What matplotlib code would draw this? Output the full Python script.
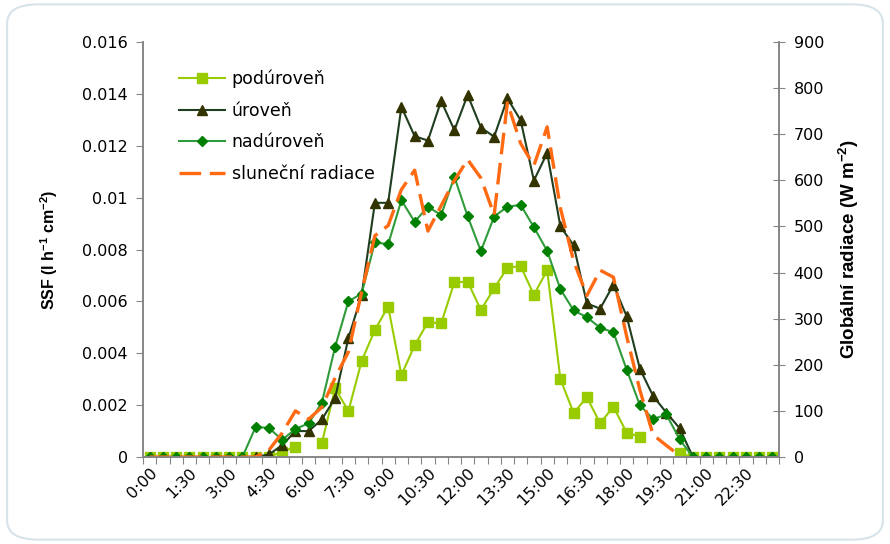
# SSF a globalni radiace behem dne (pulhodinove hodnoty)
import numpy as np
import matplotlib.pyplot as plt
from matplotlib.patches import FancyBboxPatch

nan = np.nan

plt.rcParams["mathtext.fontset"] = "custom"
plt.rcParams["mathtext.rm"] = "Liberation Sans"
plt.rcParams["mathtext.bf"] = "Liberation Sans:bold"

# casy po 30 minutach 0:00 .. 23:30
times = ["%d:%02d" % (h, m) for h in range(24) for m in (0, 30)]

podurovne = [0, 0, 0, 0, 0, 0, 0, 0, 0, 0.0, 0.0002, 0.0004, nan, 0.00055,
             0.00265, 0.00177, 0.0037, 0.0049, 0.0058, 0.00316, 0.0043, 0.0052,
             0.00515, 0.00674, 0.00676, 0.00567, 0.0065, 0.0073, 0.00736, 0.00625,
             0.0072, 0.003, 0.0017, 0.0023, 0.0013, 0.00194, 0.00094, 0.00078,
             nan, nan, 0.00015, 0, 0, 0, 0, 0, 0, 0]

urovne = [0, 0, 0, 0, 0, 0, 0, 0, 0, 0.0001, 0.00045, 0.001, 0.001, 0.00145,
          0.00228, 0.00458, 0.00625, 0.0098, 0.0098, 0.0135, 0.01237, 0.0122,
          0.01373, 0.0126, 0.01396, 0.0127, 0.01235, 0.01383, 0.01298, 0.01066,
          0.01172, 0.00889, 0.00816, 0.00592, 0.00572, 0.00664, 0.00543, 0.0034,
          0.00235, 0.00171, 0.00111, 0, 0, 0, 0, 0, 0, 0]

nadurovne = [0, 0, 0, 0, 0, 0, 0, 0, 0.00116, 0.00112, 0.00066, 0.00108, 0.0013,
             0.0021, 0.00425, 0.006, 0.0063, 0.00828, 0.0082, 0.0099, 0.00907,
             0.00965, 0.00933, 0.0108, 0.00928, 0.00794, 0.00927, 0.00965, 0.00972,
             0.00886, 0.00795, 0.00647, 0.00565, 0.00539, 0.00498, 0.00481, 0.00337,
             0.002, 0.00146, 0.00164, 0.00068, 0, 0, 0, 0, 0, 0, 0]

radiace = [0, 0, 0, 0, 0, 0, 0, 0, 0, 15, 52, 100, 82, 108, 172, 228, 358, 480,
           502, 580, 622, 490, 545, 600, 645, 605, 525, 768, 680, 632, 716, 540,
           425, 350, 405, 390, 262, 145, 48, 25, 3, nan, nan, nan, nan, nan, nan, nan]

x = np.arange(len(times))
axis_gray = "#868686"

fig = plt.figure(figsize=(8.9, 5.44), dpi=100)
fig.patches.append(FancyBboxPatch((0.008, 0.008), 0.984, 0.984,
                                  boxstyle="round,pad=0,rounding_size=0.035",
                                  transform=fig.transFigure, facecolor="white",
                                  edgecolor="#d6e3ea", linewidth=1.5, zorder=-10))
ax = fig.add_axes([0.1607, 0.1599, 0.7146, 0.7629])
ax.patch.set_alpha(0)

ax.plot(x, podurovne, color="#99cc00", lw=1.5, marker="s", ms=7,
        mec="#99cc00", mfc="#99cc00", label="podúroveň")
ax.plot(x, urovne, color="#1f3d1f", lw=1.5, marker="^", ms=7.5,
        mec="#333300", mfc="#333300", label="úroveň")
ax.plot(x, nadurovne, color="#2f9b3a", lw=1.5, marker="D", ms=5,
        mec="#008000", mfc="#008000", label="nadúroveň")

ax2 = ax.twinx()
ax2.plot(x, radiace, color="#ff6a13", lw=2.4, dashes=(6.5, 2.6),
         label="sluneční radiace")

ax.set_xlim(-0.5, len(times) - 0.5)
ax.set_ylim(0, 0.016)
ax2.set_ylim(0, 900)
ax.set_yticks(np.arange(0, 0.0161, 0.002))
ax.set_yticklabels(["0"] + ["%g" % v for v in np.arange(0.002, 0.0161, 0.002)])
ax2.set_yticks(np.arange(0, 901, 100))

# tick marks on category boundaries, labels every 1.5 h
ax.set_xticks(np.arange(-0.5, len(times), 1))
ax.set_xticklabels([])
ax.set_xticks(x[::3], times[::3], minor=True)
ax.tick_params(axis="x", which="major", length=5, direction="out", color=axis_gray)
ax.tick_params(axis="x", which="minor", length=0, pad=6, labelsize=11.5)
for lab in ax.get_xticklabels(minor=True):
    lab.set_rotation(45)
    lab.set_ha("right")
    lab.set_rotation_mode("anchor")

ax.tick_params(axis="y", length=5, direction="out", color=axis_gray, labelsize=11.5, pad=6)
ax2.tick_params(axis="y", length=9, direction="inout", color=axis_gray, labelsize=11.5, pad=6)

for a in (ax, ax2):
    a.spines["top"].set_visible(False)
    for s in ("left", "right", "bottom"):
        a.spines[s].set_color(axis_gray)
        a.spines[s].set_linewidth(1.2)

ax.set_ylabel(r"SSF (l h$^{\mathbf{-1}}$ cm$^{\mathbf{-2}}$)", fontsize=11.5,
              fontweight="bold", family="Liberation Sans", labelpad=16)
ax2.set_ylabel(r"Globální radiace (W m$^{\mathbf{-2}}$)", fontsize=13.5,
               fontweight="bold", family="Liberation Sans", rotation=90, labelpad=9)

h1, l1 = ax.get_legend_handles_labels()
h2, l2 = ax2.get_legend_handles_labels()
ax2.legend(h1 + h2, l1 + l2, loc="upper left", bbox_to_anchor=(0.045, 0.95),
           frameon=False, fontsize=12.5, handlelength=2.7, labelspacing=0.78,
           handletextpad=0.35, borderaxespad=0)

fig.savefig("out.png", dpi=100)
